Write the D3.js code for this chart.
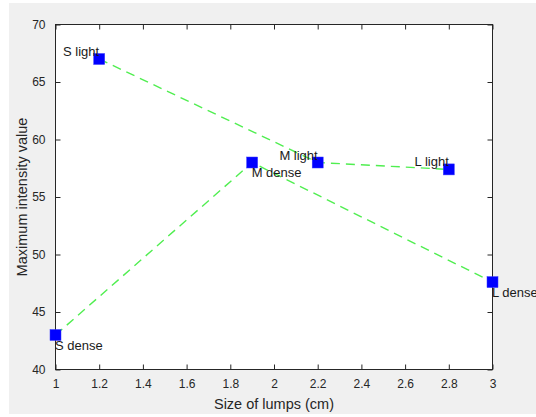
<!DOCTYPE html>
<html><head><meta charset="utf-8">
<script src="https://cdn.jsdelivr.net/npm/d3@7"></script>
<style>body{margin:0;background:#fff}svg{display:block}</style>
</head><body>
<svg id="c" width="536" height="417"></svg>
<script>
const lightX = [1.2, 2.2, 2.8];
const lightY = [67.0, 58.0, 57.4];
const lightLabels = ["S light", "M light", "L light"];
const denseX = [1.0, 1.9, 3.0];
const denseY = [43.0, 58.0, 47.6];
const denseLabels = ["S dense", "M dense", "L dense"];
const xTicks = [1, 1.2, 1.4, 1.6, 1.8, 2, 2.2, 2.4, 2.6, 2.8, 3];
const yTicks = [40, 45, 50, 55, 60, 65, 70];

const svg = d3.select("#c");
const font = "Liberation Sans, Arial, Helvetica, sans-serif";
svg.append("rect").attr("x", 9).attr("y", 3).attr("width", 527).attr("height", 411).attr("fill", "#f0f0f0");

const L = 55.5, R = 492.5, T = 24.5, B = 369.5;
const x = d3.scaleLinear().domain([1, 3]).range([L, R]);
const y = d3.scaleLinear().domain([40, 70]).range([B, T]);

svg.append("rect").attr("x", L).attr("y", T).attr("width", R - L).attr("height", B - T)
  .attr("fill", "#fff").attr("stroke", "#262626").attr("stroke-width", 1);

const axCol = "#262626";
function styleAxis(g) {
  g.select(".domain").remove();
  g.selectAll("line").attr("stroke", axCol);
  g.selectAll("text").attr("fill", axCol).style("font-family", font).style("font-size", "12px");
}
const fmt = d => String(d);
svg.append("g").attr("transform", `translate(0,${B})`)
  .call(d3.axisBottom(x).tickValues(xTicks).tickFormat(fmt).tickSizeInner(-5).tickSizeOuter(0).tickPadding(10))
  .call(styleAxis);
svg.append("g").attr("transform", `translate(0,${T})`)
  .call(d3.axisTop(x).tickValues(xTicks).tickFormat("").tickSizeInner(-5).tickSizeOuter(0))
  .call(styleAxis);
svg.append("g").attr("transform", `translate(${L},0)`)
  .call(d3.axisLeft(y).tickValues(yTicks).tickFormat(fmt).tickSizeInner(-5).tickSizeOuter(0).tickPadding(10))
  .call(styleAxis);
svg.append("g").attr("transform", `translate(${R},0)`)
  .call(d3.axisRight(y).tickValues(yTicks).tickFormat("").tickSizeInner(-5).tickSizeOuter(0))
  .call(styleAxis);

const line = d3.line().x(d => x(d[0])).y(d => y(d[1]));
const lightPts = lightX.map((v, i) => [v, lightY[i]]);
const densePts = denseX.map((v, i) => [v, denseY[i]]);
[lightPts, densePts].forEach(p => {
  svg.append("path").datum(p).attr("d", line).attr("fill", "none")
    .attr("stroke", "#50ee50").attr("stroke-width", 1.4).attr("stroke-dasharray", "9,6");
});

const allPts = lightPts.concat(densePts);
svg.selectAll(".m").data(allPts).enter().append("rect")
  .attr("x", d => x(d[0]) - 5.5).attr("y", d => y(d[1]) - 5.5)
  .attr("width", 11).attr("height", 11).attr("fill", "#0000ff").attr("stroke", "#3a3aff").attr("stroke-width", 0.5);

svg.selectAll(".ll").data(lightPts).enter().append("text")
  .attr("x", d => x(d[0])).attr("y", d => y(d[1]) - 3)
  .attr("text-anchor", "end").attr("fill", "#1a1a1a")
  .style("font-family", font).style("font-size", "13px")
  .text((d, i) => lightLabels[i]);
svg.selectAll(".dl").data(densePts).enter().append("text")
  .attr("x", d => x(d[0]) - 0.5).attr("y", d => y(d[1]) + 14.5)
  .attr("text-anchor", "start").attr("fill", "#1a1a1a")
  .style("font-family", font).style("font-size", "13px")
  .text((d, i) => denseLabels[i]);

svg.append("text").attr("x", (L + R) / 2).attr("y", 409).attr("text-anchor", "middle")
  .attr("fill", axCol).style("font-family", font).style("font-size", "14.5px").text("Size of lumps (cm)");
svg.append("text").attr("transform", `translate(27,${(T + B) / 2}) rotate(-90)`).attr("text-anchor", "middle")
  .attr("fill", axCol).style("font-family", font).style("font-size", "14.5px").text("Maximum intensity value");
</script>
</body></html>
